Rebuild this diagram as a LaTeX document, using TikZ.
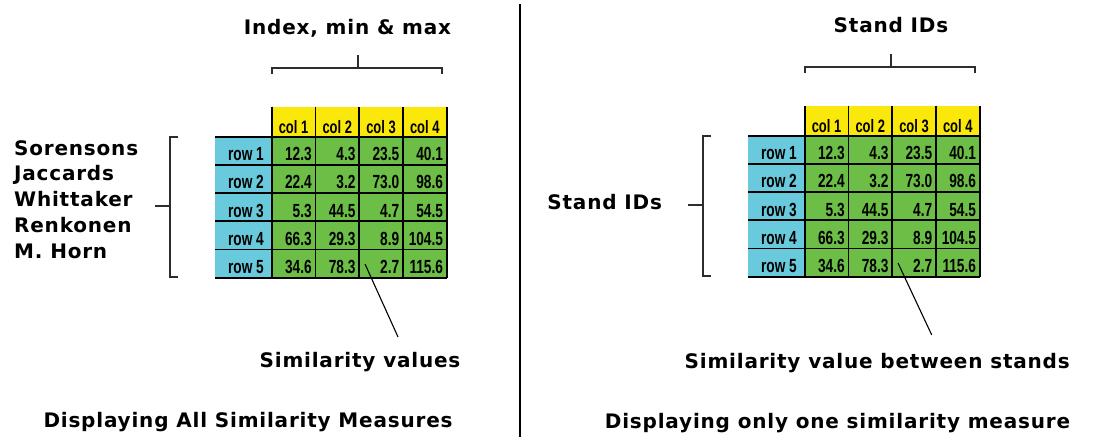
\documentclass[tikz,border=0pt]{standalone}
\usepackage{fontspec}
\usepackage{tikz}
\usetikzlibrary{positioning,calc}
\newfontfamily\titlefont{DejaVu Sans Bold}[LetterSpace=4]
\newfontfamily\cellfont{Liberation Sans Bold}[FakeStretch=0.72]
\definecolor{colyellow}{RGB}{250,232,10}
\definecolor{valgreen}{RGB}{108,190,70}
\definecolor{rowblue}{RGB}{104,202,220}
\definecolor{bracketgray}{RGB}{45,45,45}

\begin{document}
\begin{tikzpicture}[x=1pt,y=-1pt,
    titletxt/.style={font=\titlefont\fontsize{20}{24}\selectfont, inner sep=0pt, anchor=base},
    celltxt/.style={font=\cellfont\fontsize{19}{20}\selectfont, inner sep=0pt, anchor=base east},
    headtxt/.style={font=\cellfont\fontsize{18}{20}\selectfont, inner sep=0pt, anchor=base},
    gridline/.style={line width=1.8pt, black},
    bracket/.style={line width=2pt, bracketgray},
    pointer/.style={line width=1.1pt, black}]
    \useasboundingbox (0,0) rectangle (1117,437);

    % the two tables, same data
    \foreach \tab/\dx/\dy in {L/0/0, R/533/-1} {
        \begin{scope}[shift={(\dx,\dy)}]
            \fill[rowblue] (215,136.7) rectangle (271.7,277.7);
            \fill[colyellow] (271.7,106.7) rectangle (446.7,136.7);
            \fill[valgreen] (271.7,136.7) rectangle (446.7,277.7);
            \foreach \i in {0,...,5}
                \draw[gridline] (215,{136.7+28.2*\i}) -- (446.7,{136.7+28.2*\i});
            \foreach \j in {0,...,4}
                \draw[gridline] ({271.7+43.75*\j},106.7) -- ({271.7+43.75*\j},277.7);
            \foreach \j in {1,...,4}
                \node[headtxt] (\tab-c\j) at ({271.7+43.75*\j-21.9},133) {col \j};
            \foreach \a/\b/\c/\d [count=\k] in {12.3/4.3/23.5/40.1, 22.4/3.2/73.0/98.6,
                    5.3/44.5/4.7/54.5, 66.3/29.3/8.9/104.5, 34.6/78.3/2.7/115.6} {
                \node[celltxt] (\tab-r\k) at (264,{160.7+28.2*(\k-1)}) {row \k};
                \node[celltxt] (\tab-\k-1) at ({271.7+43.75*1-3.5},{160.7+28.2*(\k-1)}) {\a};
                \node[celltxt] (\tab-\k-2) at ({271.7+43.75*2-3.5},{160.7+28.2*(\k-1)}) {\b};
                \node[celltxt] (\tab-\k-3) at ({271.7+43.75*3-3.5},{160.7+28.2*(\k-1)}) {\c};
                \node[celltxt] (\tab-\k-4) at ({271.7+43.75*4-3.5},{160.7+28.2*(\k-1)}) {\d};
            }
            \coordinate (\tab-ptr) at (365,264);
            % brackets
            \draw[bracket] (178.3,137.3) -- (170,137.3) -- (170,276.7) -- (178.3,276.7);
            \draw[bracket] (170,206) -- (155,206);
            \draw[bracket] (271.7,74) -- (271.7,68.3) -- (442.3,68.3) -- (442.3,74);
            \draw[bracket] (358.3,68.3) -- (358.3,55);
        \end{scope}
    }

    % left half
    \node[titletxt] (Lidx) at (347.5,34.3) {Index, min \& max};
    \foreach \name [count=\k] in {Sorensons, Jaccards, Whittaker, Renkonen, M. Horn}
        \node[titletxt, anchor=base west] (meas\k) at (14,{155+25.8*(\k-1)}) {\name};
    \node[titletxt] (Lsim) at (360,367.3) {Similarity values};
    \node[titletxt] (Ltitle) at (248,427.7) {Displaying All Similarity Measures};
    \draw[pointer] (L-ptr) -- ([xshift=38pt,yshift=15pt]Lsim.north);

    % divider
    \draw[line width=1.5pt] (520,4) -- (520,437);

    % right half
    \node[titletxt] (Rids) at (891,32.3) {Stand IDs};
    \node[titletxt] (Rrows) at (604.7,209.3) {Stand IDs};
    \node[titletxt] (Rsim) at (877.2,368.3) {Similarity value between stands};
    \node[titletxt] (Rtitle) at (837.5,428.3) {Displaying only one similarity measure};
    \draw[pointer] (R-ptr) -- ([xshift=54.5pt,yshift=18pt]Rsim.north);
\end{tikzpicture}
\end{document}
